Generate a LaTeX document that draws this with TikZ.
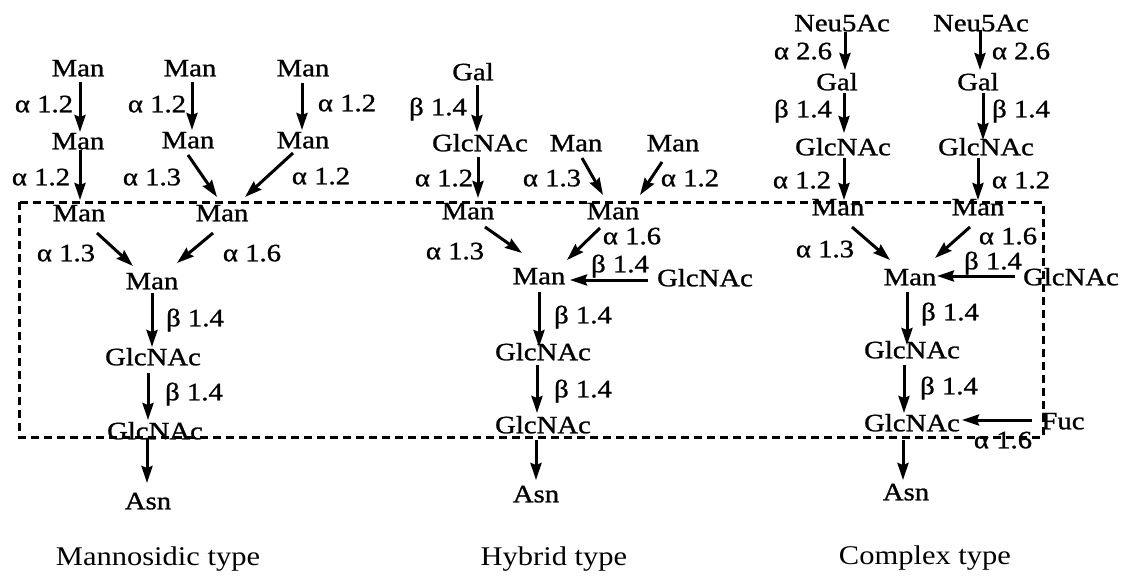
\documentclass[tikz,border=0pt]{standalone}
\usepackage{fontspec}
\setmainfont{Liberation Serif}[FakeStretch=1.15,FakeBold=1.0]
\newfontfamily\capfont{Liberation Serif}[FakeStretch=1.13]
\usetikzlibrary{arrows.meta}
\begin{document}
\begin{tikzpicture}[x=1pt,y=-1pt,
  sug/.style={font=\fontsize{25}{30}\selectfont, inner sep=0pt, text height=16.5pt, text depth=0pt},
  lnk/.style={font=\fontsize{25}{30}\selectfont, inner sep=0pt, text height=16.5pt, text depth=0pt},
  captxt/.style={font=\capfont\fontsize{27}{32}\selectfont, inner sep=0pt, text height=18pt, text depth=0pt},
  arr/.style={line width=3pt, -{Stealth[length=17pt,width=11pt,inset=2pt]}},
  boxline/.style={line width=3pt, dash pattern=on 8pt off 5pt}]
\useasboundingbox (0,0) rectangle (1130,579);
\fill[white] (0,0) rectangle (1130,579);

% dashed core box
\draw[boxline] (19,202) rectangle (1043,437);

% ---------- Mannosidic type ----------
\node[sug] (A1) at (78,68) {Man};
\node[sug] (A2) at (190,68) {Man};
\node[sug] (A3) at (303,68) {Man};
\node[sug] (B1) at (78,141) {Man};
\node[sug] (B2) at (188,140) {Man};
\node[sug] (B3) at (303,140) {Man};
\node[sug] (C1) at (79,213) {Man};
\node[sug] (C2) at (222,213) {Man};
\node[sug] (D) at (152,281) {Man};
\node[sug] (E) at (153,357) {GlcNAc};
\node[sug] (F) at (155,431) {GlcNAc};
\node[sug] (G) at (148,501) {Asn};
\node[captxt] (capA) at (158,556) {Mannosidic type};

\node[lnk] (la1) at (44,104) {α 1.2};
\node[lnk] (la2) at (157,104) {α 1.2};
\node[lnk] (la3) at (347,103) {α 1.2};
\node[lnk] (la4) at (41,177) {α 1.2};
\node[lnk] (la5) at (152,177) {α 1.3};
\node[lnk] (la6) at (321,176) {α 1.2};
\node[lnk] (la7) at (66,253) {α 1.3};
\node[lnk] (la8) at (252,253) {α 1.6};
\node[lnk] (la9) at (195,318) {β 1.4};
\node[lnk] (la10) at (194,392) {β 1.4};

\draw[arr] ([shift={(2,14)}]A1.center) -- ([shift={(2,-9)}]B1.center);
\draw[arr] ([shift={(2,14)}]A2.center) -- ([shift={(4,-10)}]B2.center);
\draw[arr] ([shift={(-1,15)}]A3.center) -- ([shift={(-1,-10)}]B3.center);
\draw[arr] ([shift={(2,9)}]B1.center) -- ([shift={(1,-13)}]C1.center);
\draw[arr] ([shift={(0,15)}]B2.center) -- ([shift={(-5,-16)}]C2.center);
\draw[arr] ([shift={(-10,13)}]B3.center) -- ([shift={(23,-16)}]C2.center);
\draw[arr] ([shift={(18,20)}]C1.center) -- ([shift={(-19,-15)}]D.center);
\draw[arr] ([shift={(-9,20)}]C2.center) -- ([shift={(25,-18)}]D.center);
\draw[arr] ([shift={(0,12)}]D.center) -- ([shift={(-1,-10)}]E.center);
\draw[arr] ([shift={(-5,16)}]E.center) -- ([shift={(-7,-11)}]F.center);
\draw[arr] ([shift={(-8,7)}]F.center) -- ([shift={(-1,-18)}]G.center);

% ---------- Hybrid type ----------
\node[sug] (H1) at (473,72) {Gal};
\node[sug] (H2) at (480,143) {GlcNAc};
\node[sug] (H3) at (576,143) {Man};
\node[sug] (H4) at (673,143) {Man};
\node[sug] (H5) at (468,211) {Man};
\node[sug] (H6) at (613,211) {Man};
\node[sug] (H7) at (539,276) {Man};
\node[sug] (H8) at (705,278) {GlcNAc};
\node[sug] (H9) at (543,352) {GlcNAc};
\node[sug] (H10) at (543,425) {GlcNAc};
\node[sug] (H11) at (536,494) {Asn};
\node[captxt] (capH) at (554,556) {Hybrid type};

\node[lnk] (lh1) at (438,107) {β 1.4};
\node[lnk] (lh2) at (444,178) {α 1.2};
\node[lnk] (lh3) at (552,178) {α 1.3};
\node[lnk] (lh4) at (690,178) {α 1.2};
\node[lnk] (lh5) at (632,236) {α 1.6};
\node[lnk] (lh6) at (455,251) {α 1.3};
\node[lnk] (lh7) at (620,264) {β 1.4};
\node[lnk] (lh8) at (583,315) {β 1.4};
\node[lnk] (lh9) at (583,389) {β 1.4};

\draw[arr] ([shift={(4,13)}]H1.center) -- ([shift={(-3,-11)}]H2.center);
\draw[arr] ([shift={(-2,14)}]H2.center) -- ([shift={(10,-13)}]H5.center);
\draw[arr] ([shift={(6,15)}]H3.center) -- ([shift={(-10,-16)}]H6.center);
\draw[arr] ([shift={(-11,19)}]H4.center) -- ([shift={(27,-16)}]H6.center);
\draw[arr] ([shift={(17,16)}]H5.center) -- ([shift={(-17,-23)}]H7.center);
\draw[arr] ([shift={(-13,17)}]H6.center) -- ([shift={(28,-16)}]H7.center);
\draw[arr] ([shift={(-57,2)}]H8.center) -- ([shift={(31,4)}]H7.center);
\draw[arr] ([shift={(0,16)}]H7.center) -- ([shift={(-4,-5)}]H9.center);
\draw[arr] ([shift={(-6,13)}]H9.center) -- ([shift={(-6,-12)}]H10.center);
\draw[arr] ([shift={(-7,15)}]H10.center) -- ([shift={(0,-14)}]H11.center);

% ---------- Complex type ----------
\node[sug] (K1) at (842,23) {Neu5Ac};
\node[sug] (K2) at (981,23) {Neu5Ac};
\node[sug] (K3) at (837,82) {Gal};
\node[sug] (K4) at (978,82) {Gal};
\node[sug] (K5) at (843,147) {GlcNAc};
\node[sug] (K6) at (986,147) {GlcNAc};
\node[sug] (K7) at (838,207) {Man};
\node[sug] (K8) at (978,207) {Man};
\node[sug] (K9) at (910,277) {Man};
\node[sug] (K10) at (1071,277) {GlcNAc};
\node[sug] (K11) at (912,350) {GlcNAc};
\node[sug] (K12) at (912,423) {GlcNAc};
\node[sug] (K13) at (1063,421) {Fuc};
\node[sug] (K14) at (906,492) {Asn};
\node[captxt] (capK) at (925,555) {Complex type};

\node[lnk] (lk1) at (803,51) {α 2.6};
\node[lnk] (lk2) at (1021,51) {α 2.6};
\node[lnk] (lk3) at (803,109) {β 1.4};
\node[lnk] (lk4) at (1021,109) {β 1.4};
\node[lnk] (lk5) at (802,180) {α 1.2};
\node[lnk] (lk6) at (1021,180) {α 1.2};
\node[lnk] (lk7) at (1008,236) {α 1.6};
\node[lnk] (lk8) at (825,249) {α 1.3};
\node[lnk] (lk9) at (993,261) {β 1.4};
\node[lnk] (lk10) at (950,312) {β 1.4};
\node[lnk] (lk11) at (949,386) {β 1.4};
\node[lnk] (lk12) at (1003,440) {α 1.6};

\draw[arr] ([shift={(3,9)}]K1.center) -- ([shift={(8,-12)}]K3.center);
\draw[arr] ([shift={(-1,7)}]K2.center) -- ([shift={(2,-12)}]K4.center);
\draw[arr] ([shift={(7,11)}]K3.center) -- ([shift={(1,-14)}]K5.center);
\draw[arr] ([shift={(5,11)}]K4.center) -- ([shift={(-3,-7)}]K6.center);
\draw[arr] ([shift={(1,11)}]K5.center) -- ([shift={(6,-7)}]K7.center);
\draw[arr] ([shift={(-8,11)}]K6.center) -- ([shift={(0,-7)}]K8.center);
\draw[arr] ([shift={(14,20)}]K7.center) -- ([shift={(-20,-17)}]K9.center);
\draw[arr] ([shift={(-8,20)}]K8.center) -- ([shift={(25,-19)}]K9.center);
\draw[arr] ([shift={(-56,-1)}]K10.center) -- ([shift={(27,-1)}]K9.center);
\draw[arr] ([shift={(-3,15)}]K9.center) -- ([shift={(-5,-5)}]K11.center);
\draw[arr] ([shift={(-8,15)}]K11.center) -- ([shift={(-8,-10)}]K12.center);
\draw[arr] ([shift={(-31,-1)}]K13.center) -- ([shift={(50,-3)}]K12.center);
\draw[arr] ([shift={(-9,17)}]K12.center) -- ([shift={(-3,-12)}]K14.center);
\end{tikzpicture}
\end{document}
